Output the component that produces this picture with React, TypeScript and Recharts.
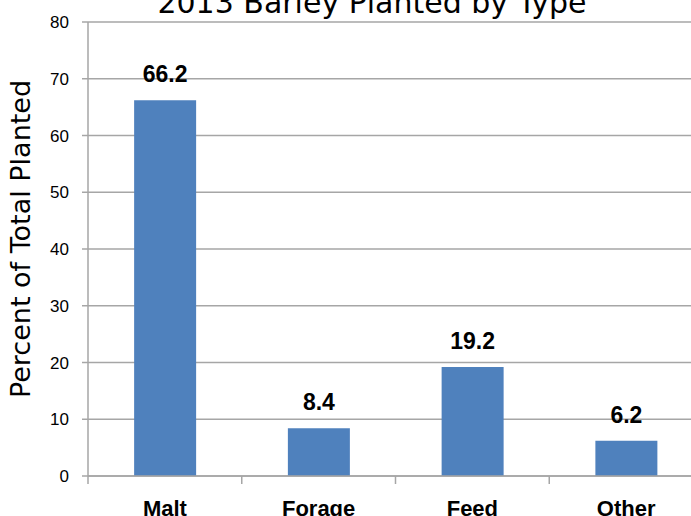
import React from 'react';
import { BarChart, Bar, XAxis, YAxis, CartesianGrid, LabelList, Customized } from 'recharts';

const categories = ['Malt', 'Forage', 'Feed', 'Other'];
const percents = [66.2, 8.4, 19.2, 6.2];
const yTicks = [0, 10, 20, 30, 40, 50, 60, 70, 80];
const title = '2013 Barley Planted by Type';
const yLabel = 'Percent of Total Planted';

const data = categories.map((c, i) => ({ name: c, value: percents[i] }));

const GRID = '#a6a6a6';
const BAR = '#4f81bd';

const XTick = (props: any) => {
  const { x, y, payload, index } = props;
  const off = payload && payload.offset ? payload.offset : 0;
  const y0 = y - 24;
  return (
    <g>
      <line x1={x - off} x2={x - off} y1={y0} y2={y0 + 8} stroke={GRID} strokeWidth={1.5} />
      {index === categories.length - 1 && (
        <line x1={x + off} x2={x + off} y1={y0} y2={y0 + 8} stroke={GRID} strokeWidth={1.5} />
      )}
      <text
        x={x}
        y={y}
        dy="0.71em"
        textAnchor="middle"
        fontFamily="'Liberation Sans Narrow', 'Liberation Sans', sans-serif"
        fontWeight="bold"
        fontSize={22}
        fill="#000"
      >
        {payload.value}
      </text>
    </g>
  );
};

const YLabel = (props: any) => {
  const vb = props.viewBox || { x: 0, y: 22, width: 88, height: 454 };
  const cx = 20;
  const cy = vb.y + vb.height / 2 - 10;
  return (
    <text
      x={cx}
      y={cy}
      transform={`rotate(-90, ${cx}, ${cy})`}
      textAnchor="middle"
      dominantBaseline="central"
      fontFamily="'DejaVu Sans', sans-serif"
      fontSize={27}
      fill="#000"
    >
      {yLabel}
    </text>
  );
};

const Title = () => (
  <text
    x={372}
    y={13}
    textAnchor="middle"
    fontFamily="'DejaVu Sans', sans-serif"
    fontSize={30}
    fill="#000"
  >
    {title}
  </text>
);

export default function App() {
  return (
    <div
      style={{
        position: 'absolute',
        left: 0,
        top: 0,
        width: 691,
        height: 516,
        overflow: 'hidden',
        background: '#fff',
      }}
    >
      <BarChart
        width={703}
        height={530}
        data={data}
        margin={{ top: 22, right: 0, left: 0, bottom: 0 }}
        barCategoryGap="30%"
      >
        <CartesianGrid vertical={false} stroke={GRID} strokeWidth={1.5} />
        <XAxis
          dataKey="name"
          height={54}
          axisLine={{ stroke: GRID, strokeWidth: 1.5 }}
          tickLine={false}
          tickSize={10}
          tickMargin={14}
          tick={<XTick />}
          interval={0}
        />
        <YAxis
          width={88}
          domain={[0, 80]}
          ticks={yTicks}
          interval={0}
          axisLine={{ stroke: GRID, strokeWidth: 1.5 }}
          tickLine={{ stroke: GRID, strokeWidth: 1.5 }}
          tickSize={6}
          tickMargin={13}
          tick={{
            fill: '#000',
            fontSize: 17,
            fontFamily: "'Liberation Sans Narrow', 'Liberation Sans', sans-serif",
          }}
          label={<YLabel />}
        />
        <Bar dataKey="value" fill={BAR} isAnimationActive={false}>
          <LabelList
            dataKey="value"
            position="top"
            offset={18}
            fill="#000"
            fontSize={23}
            fontWeight="bold"
            fontFamily="'Liberation Sans Narrow', 'Liberation Sans', sans-serif"
            formatter={(v: any) => Number(v).toFixed(1)}
          />
        </Bar>
        <Customized component={Title} />
      </BarChart>
    </div>
  );
}
